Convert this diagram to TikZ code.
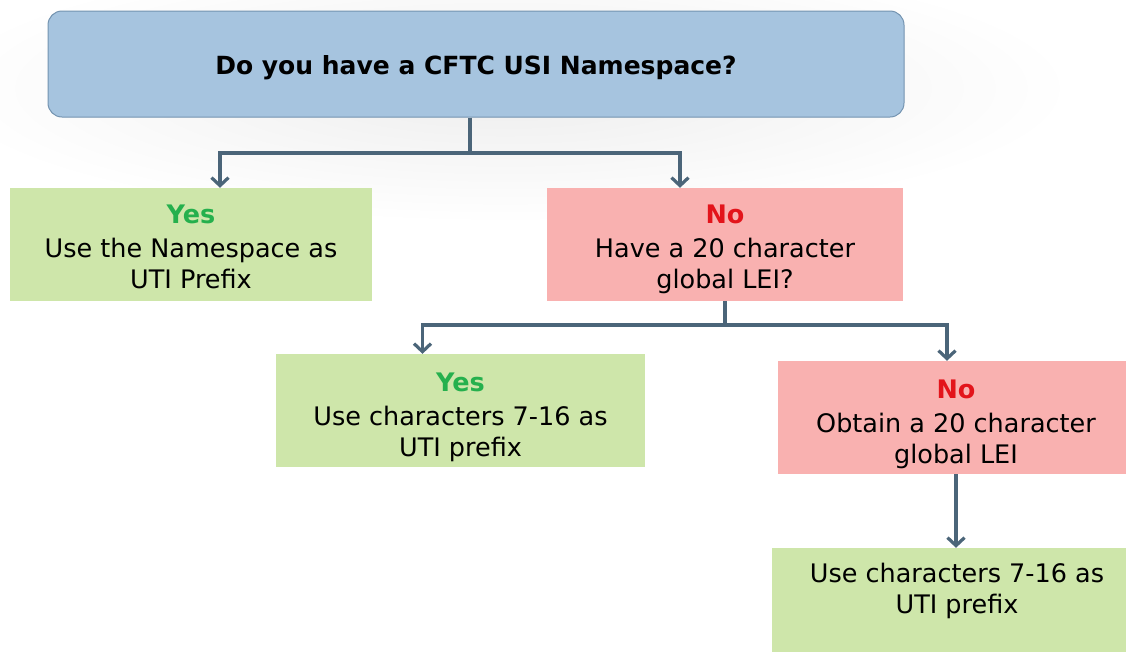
\documentclass[tikz,border=0pt]{standalone}
\usepackage{fontspec}
\setmainfont{DejaVu Sans}
\usetikzlibrary{arrows.meta}
\definecolor{qblue}{HTML}{A6C4DF}
\definecolor{qborder}{HTML}{7393B0}
\definecolor{ygreen}{HTML}{CEE6AA}
\definecolor{nred}{HTML}{F9B1B0}
\definecolor{arrowc}{HTML}{4B6579}
\definecolor{yestext}{HTML}{25B04D}
\definecolor{notext}{HTML}{E3141B}
\newcommand{\yeslabel}{\textcolor{yestext}{\bfseries Yes}}
\newcommand{\nolabel}{\textcolor{notext}{\bfseries No}}
\begin{document}
\begin{tikzpicture}[x=1pt,y=-1pt,
  question/.style={draw=qborder, line width=1pt, fill=qblue, rounded corners=14pt,
    minimum width=856pt, minimum height=106pt, inner sep=0pt},
  answerbox/.style={inner sep=0pt},
  yesbox/.style={answerbox, fill=ygreen},
  nobox/.style={answerbox, fill=nred},
  qtext/.style={inner sep=0pt, font=\fontsize{25}{30}\selectfont\bfseries},
  boxtext/.style={inner sep=0pt, align=center, font=\fontsize{25.5}{31}\selectfont},
  link/.style={draw=arrowc, line width=3.2pt},
  arr/.style={link, -{Straight Barb[length=8pt,width=17pt]}}
]
\useasboundingbox (0,0) rectangle (1126,651);
\fill[white] (0,0) rectangle (1126,651);
\shade[inner color=black!7, outer color=white] (505,88) ellipse [x radius=570, y radius=135];

\node[question] (q) at (476,64) {};
\node[qtext] (qt) at (476,68) {Do you have a CFTC USI Namespace?};

\node[yesbox, minimum width=362pt, minimum height=113pt] (yes1) at (191,244.5) {};
\node[boxtext] (yes1t) at (191,247) {\yeslabel\\[3pt] Use the Namespace as\\ UTI Prefix};

\node[nobox, minimum width=356pt, minimum height=113pt] (no1) at (725,244.5) {};
\node[boxtext] (no1t) at (725,249.5) {\nolabel\\[3pt] Have a 20 character\\ global LEI?};

\node[yesbox, minimum width=369pt, minimum height=113pt] (yes2) at (460.5,410.5) {};
\node[boxtext] (yes2t) at (460.5,417.5) {\yeslabel\\[3pt] Use characters 7-16 as\\ UTI prefix};

\node[nobox, minimum width=356pt, minimum height=113pt] (no2) at (956,417.5) {};
\node[boxtext] (no2t) at (956,424) {\nolabel\\[3pt] Obtain a 20 character\\ global LEI};

\begin{scope}
\clip (0,0) rectangle (1126,651);
\node[yesbox, minimum width=368pt, minimum height=116pt] (yes3) at (956,606) {};
\end{scope}
\node[boxtext] (yes3t) at (957,590.5) {Use characters 7-16 as\\ UTI prefix};

\coordinate (j1) at (470,153);
\coordinate (j2) at (725,325);

\draw[link] ([xshift=-6pt]q.south) -- (j1);
\draw[arr] (j1) -| ([xshift=29pt]yes1.north);
\draw[arr] (j1) -| ([xshift=-45pt]no1.north);

\draw[link] (no1.south) -- (j2);
\draw[arr] (j2) -| ([xshift=-38pt]yes2.north);
\draw[arr] (j2) -| ([xshift=-9pt]no2.north);

\draw[arr] (no2.south) -- (yes3.north);
\end{tikzpicture}
\end{document}
